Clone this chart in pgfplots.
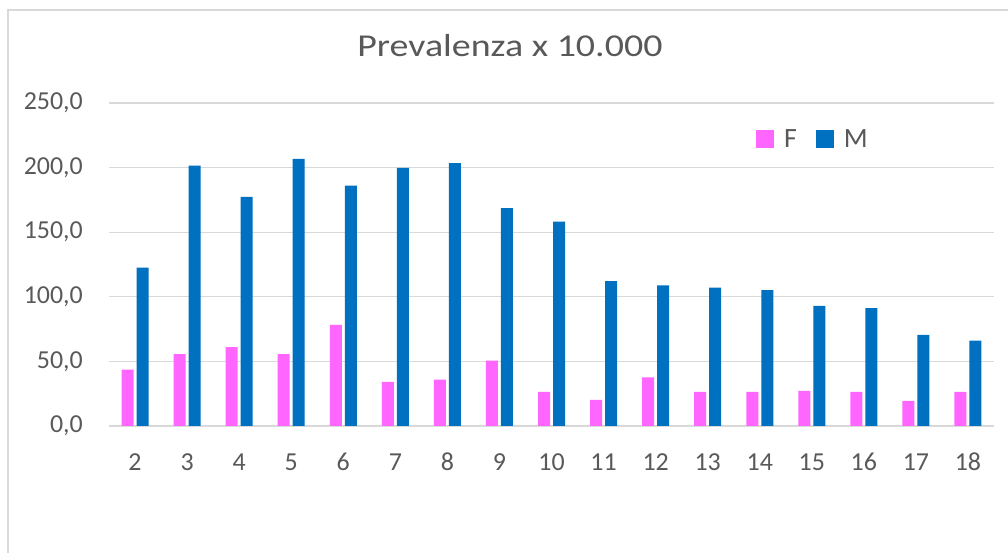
\documentclass[border=0pt]{standalone}
\usepackage{pgfplots}
\pgfplotsset{compat=1.18}
\usepackage{fontspec}
\setmainfont{Carlito}
\newfontfamily\titlefont[FakeStretch=1.19]{Carlito}
\definecolor{fcol}{HTML}{FF66FF}
\definecolor{mcol}{HTML}{0070C0}
\definecolor{txt}{HTML}{595959}
\definecolor{grd}{HTML}{D9D9D9}
\begin{document}
\begin{tikzpicture}[x=1bp,y=1bp]
\useasboundingbox (0,0) rectangle (1008,553);
\fill[white] (0,0) rectangle (1008,553);
\draw[grd, line width=1.5bp] (8,0) -- (8,543) -- (1008,543);
\begin{axis}[
  at={(109bp,127bp)}, anchor=south west,
  scale only axis, width=885bp, height=323bp,
  xmin=1.5, xmax=18.5, ymin=0, ymax=250,
  ybar=3bp, bar width=12bp,
  xtick={2,3,...,18}, ytick={0,50,...,250},
  major tick length=0pt,
  axis line style={draw=none},
  ymajorgrids, grid style={grd, line width=1.2bp},
  /pgf/number format/assume math mode=true,
  yticklabel={\pgfmathprintnumber[fixed,zerofill,precision=1,use comma]{\tick}},
  xticklabel={\pgfmathprintnumber{\tick}},
  tick label style={font=\fontsize{26}{30}\selectfont, text=txt},
  yticklabel style={anchor=east, inner sep=0pt, xshift=-26bp},
  xticklabel style={anchor=base, inner sep=0pt, yshift=-44.7bp},
  title={Prevalenza x 10.000},
  title style={at={(axis description cs:0.453,1.126)}, anchor=base, inner sep=0pt, font=\titlefont\fontsize{32}{36}\selectfont, text=txt},
  legend columns=2,
  legend image code/.code={\fill[#1] (0bp,-9bp) rectangle (18bp,9bp);},
  legend style={at={(axis description cs:0.731,0.889)}, anchor=west, draw=none, fill=none,
    inner sep=0pt, font=\fontsize{28}{32}\selectfont, text=txt,
    nodes={inner sep=0pt},
    /tikz/every odd column/.append style={column sep=10bp},
    /tikz/every even column/.append style={column sep=19bp}},
]
\addplot[fill=fcol, draw=none] coordinates {
(2,43.7) (3,55.6) (4,61.0) (5,55.6) (6,78.3) (7,34.1) (8,35.9) (9,50.6) (10,26.4)
(11,20.2) (12,37.7) (13,26.4) (14,26.4) (15,27.1) (16,26.4) (17,19.4) (18,26.4)};
\addplot[fill=mcol, draw=none] coordinates {
(2,122.5) (3,201.6) (4,177.3) (5,206.7) (6,186.0) (7,199.7) (8,203.4) (9,168.7) (10,158.1)
(11,112.1) (12,108.8) (13,107.0) (14,105.2) (15,93.0) (16,91.2) (17,70.5) (18,66.1)};
\legend{F,M}
\end{axis}
\end{tikzpicture}
\end{document}
